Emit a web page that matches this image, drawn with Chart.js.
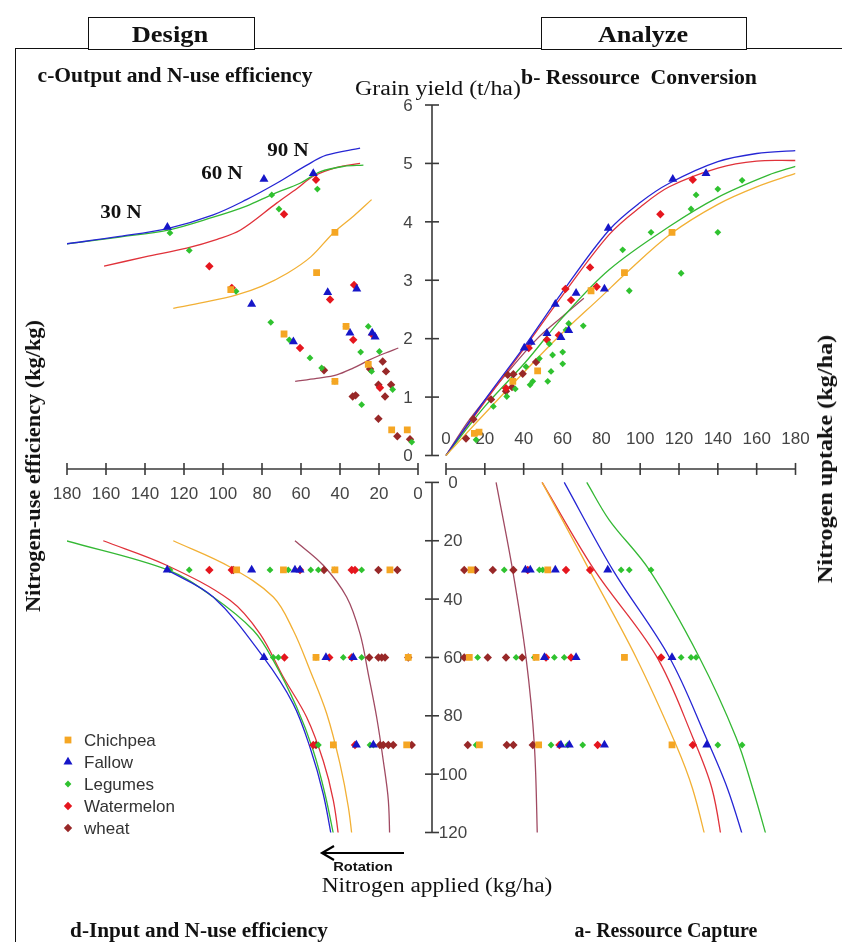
<!DOCTYPE html>
<html>
<head>
<meta charset="utf-8">
<script src="https://cdn.jsdelivr.net/npm/chart.js@4.4.1/dist/chart.umd.min.js"></script>
<style>
  html, body { margin: 0; padding: 0; background: #fff; }
  #wrap { position: relative; width: 842px; height: 942px; overflow: hidden; }
  #frame { position: absolute; left: 15px; top: 48px; width: 840px; height: 900px;
           border-left: 1.5px solid #111; border-top: 1.5px solid #111; }
  .box { position: absolute; top: 17px; height: 31px; border: 1.5px solid #111; background: #fff; }
  .lbl { position: absolute; white-space: pre; transform: translate(-50%, -50%);
         font-family: 'Liberation Serif', 'Times New Roman', serif; color: #111; line-height: 1; }
  .b { font-weight: bold; }
  canvas { position: absolute; left: 0; top: 0; }
</style>
</head>
<body>
<div id="wrap">
  <div id="frame"></div>
  <div class="box" style="left:88px;width:165px"></div>
  <div class="box" style="left:541px;width:204px"></div>
  <canvas id="chart" width="842" height="942"></canvas>

  <div class="lbl b" style="left:170px;top:34px;font-size:23px" data-w="76">Design</div>
  <div class="lbl b" style="left:643px;top:34px;font-size:23px" data-w="90">Analyze</div>
  <div class="lbl b" style="left:175px;top:75px;font-size:20px" data-w="275">c-Output and N-use efficiency</div>
  <div class="lbl" style="left:438px;top:88px;font-size:20px" data-w="166">Grain yield (t/ha)</div>
  <div class="lbl b" style="left:639px;top:77px;font-size:20px" data-w="236">b- Ressource  Conversion</div>
  <div class="lbl b" style="left:121px;top:212px;font-size:18px" data-w="42">30 N</div>
  <div class="lbl b" style="left:222px;top:173px;font-size:18px" data-w="42">60 N</div>
  <div class="lbl b" style="left:288px;top:150px;font-size:18px" data-w="42">90 N</div>
  <div class="lbl b" style="left:33px;top:466px;font-size:20px" data-w="292" data-rot="1">Nitrogen-use efficiency (kg/kg)</div>
  <div class="lbl b" style="left:825px;top:459px;font-size:20px" data-w="248" data-rot="1">Nitrogen uptake (kg/ha)</div>
  <div class="lbl" style="left:437px;top:885px;font-size:20px" data-w="231">Nitrogen applied (kg/ha)</div>
  <div class="lbl b" style="left:199px;top:930px;font-size:20px" data-w="258">d-Input and N-use efficiency</div>
  <div class="lbl b" style="left:666px;top:930px;font-size:20px" data-w="183">a- Ressource Capture</div>
  <div class="lbl b" style="left:363px;top:867px;font-size:12px;font-family:'Liberation Sans',Arial,sans-serif" data-w="60">Rotation</div>
</div>

<script>
// series and tick labels
const seriesNames = ["Chichpea", "Fallow", "Legumes", "Watermelon", "wheat"];
const yieldTicks = [0, 1, 2, 3, 4, 5, 6];
const uptakeTicks = [0, 20, 40, 60, 80, 100, 120, 140, 160, 180];
const nueTicks = [180, 160, 140, 120, 100, 80, 60, 40, 20, 0];
const appliedTicks = [0, 20, 40, 60, 80, 100, 120];

// c - Output and N-use efficiency: [N-use efficiency, grain yield]
const cChickpea = [[96,2.84],[68.7,2.08],[52,3.13],[42.6,3.82],[42.6,1.27],[36.9,2.21],[25.5,1.56],[13.5,0.44],[5.5,0.44]];
const cFallow = [[128.5,3.91],[79,4.73],[53.7,4.83],[85.3,2.59],[46.3,2.79],[31.4,2.85],[63.9,1.95],[34.9,2.1],[22,2.03],[23.5,2.1]];
const cLegumes = [[127.2,3.81],[117.3,3.51],[75,4.46],[71.3,4.22],[51.6,4.56],[93.3,2.81],[75.5,2.28],[66,1.98],[55.4,1.67],[49.4,1.5],[42.6,1.27],[36.9,2.21],[29.4,1.77],[28.9,0.87],[25.5,2.21],[23.8,1.44],[19.8,1.78],[13,1.13],[3.2,0.23]];
const cWatermelon = [[107,3.24],[95.5,2.87],[68.7,4.13],[52.3,4.72],[45.1,2.67],[32.8,2.92],[60.5,1.84],[33.2,1.98],[23.4,2.07],[19.5,1.16]];
const cWheat = [[48.2,1.46],[33.5,1.01],[32,1.03],[24.6,1.48],[20.3,0.63],[18.1,1.61],[16.4,1.44],[20.3,1.21],[16.9,1.01],[13.8,1.21],[10.6,0.33],[4.1,0.28]];
const cChickpeaFit = [[125.5,2.52],[110,2.62],[93,2.75],[80,2.9],[67,3.12],[55,3.4],[43.4,3.81],[33,4.1],[23.8,4.38]];
const cFallowFit = [[181,3.62],[153,3.75],[128,3.89],[105,4.12],[88,4.38],[72.5,4.66],[57,4.97],[47,5.14],[29.7,5.26]];
const cLegumesFit = [[181,3.62],[153,3.74],[128,3.86],[105,4.08],[88,4.27],[74,4.48],[60.5,4.66],[50,4.86],[38,4.95],[28,4.97]];
const cWatermelonFit = [[161,3.24],[140,3.4],[118.6,3.55],[103,3.7],[91,3.86],[72.5,4.32],[62,4.57],[53.7,4.78],[42,4.93],[29.7,5.0]];
const cWheatFit = [[63,1.27],[52,1.32],[41.7,1.38],[33,1.5],[24.6,1.64],[17,1.75],[10.1,1.84]];

// b - Ressource Conversion: [N uptake, grain yield]
const bChickpea = [[116.4,3.82],[91.9,3.13],[74.7,2.82],[47.2,1.45],[34.4,1.27],[14.6,0.38],[17,0.4]];
const bFallow = [[116.8,4.73],[133.9,4.83],[83.6,3.89],[81.6,2.85],[67,2.78],[56.3,2.59],[52,2.09],[63.2,2.14],[59.2,2.02],[43.8,1.94],[40.3,1.84]];
const bLegumes = [[152.5,4.71],[140,4.56],[128.8,4.46],[126.2,4.22],[105.6,3.82],[91,3.52],[140,3.82],[121.1,3.12],[94.4,2.82],[70.7,2.22],[63.2,2.26],[61.8,2.15],[53.2,1.91],[54.9,1.72],[60.1,1.77],[60.1,1.57],[48.1,1.66],[54.1,1.44],[52.4,1.27],[44.7,1.27],[43.3,1.21],[41.2,1.52],[35.7,1.14],[31.3,1.01],[24.4,0.84],[15.5,0.27]];
const bWatermelon = [[127.1,4.72],[110.4,4.13],[74.2,3.22],[77.6,2.89],[61.5,2.85],[64.4,2.66],[52,1.98],[58.1,2.06],[42.6,1.84],[30.9,1.15]];
const bWheat = [[46.4,1.6],[39.5,1.4],[34.7,1.39],[31.8,1.38],[34,1.17],[30.9,1.1],[23.2,0.96],[14.1,0.62],[10.3,0.29]];
const bChickpeaFit = [[0,0],[20,0.72],[40,1.42],[60,2.1],[80,2.72],[92,3.1],[116,3.8],[140,4.3],[160,4.6],[180,4.83]];
const bFallowFit = [[0,0],[20,0.95],[40,1.85],[60,2.8],[84,3.86],[100,4.33],[115,4.66],[140,5.03],[160,5.17],[180,5.22]];
const bLegumesFit = [[0,0],[20,0.84],[41,1.6],[60,2.36],[84,3.18],[115,3.92],[140,4.42],[166,4.8],[180,4.95]];
const bWatermelonFit = [[0,0],[20,0.92],[40,1.82],[60,2.74],[84,3.78],[100,4.25],[115,4.6],[140,4.92],[160,5.04],[180,5.05]];
const bWheatFit = [[0,0],[12,0.61],[29.2,1.32],[46.4,1.98],[60,2.38],[71,2.69]];

// d - Input and N-use efficiency: [N-use efficiency, N applied]
const dChickpea = [[93,30],[69,30],[42.6,30],[14.4,30],[52.3,60],[5,60],[43.4,90],[5.8,90]];
const dFallow = [[128.6,30],[85.3,30],[63.1,30],[60.5,30],[79,60],[47.2,60],[33.2,60],[31.6,90],[22.9,90]];
const dLegumes = [[127.2,30],[117.3,30],[75.9,30],[66.5,30],[55,30],[51.1,30],[42.9,30],[28.9,30],[74.2,60],[71.6,60],[52.3,60],[38.3,60],[28.9,60],[51.1,90],[43.4,90],[24.6,90],[22.9,90]];
const dWatermelon = [[107,30],[95.5,30],[60.5,30],[34,30],[32.3,30],[68.5,60],[45.5,60],[34,60],[53.7,90],[32.3,90]];
const dWheat = [[94.7,30],[48.2,30],[20.3,30],[10.6,30],[25,60],[20.3,60],[18.6,60],[16.9,60],[5,60],[52.3,90],[19.5,90],[17.8,90],[15.2,90],[12.7,90],[3.2,90]];
const dChickpeaFit = [[125.5,20],[96.4,29],[74.2,39.3],[64,50.7],[55.4,64.4],[46.8,79.3],[40,96.5],[35.7,111.4],[33.2,125]];
const dFallowFit = [[128.6,30],[105,39.3],[79.3,59.9],[64,75.9],[55.4,90.8],[48.6,106.8],[43.4,125]];
const dLegumesFit = [[180.5,20],[128,30.1],[105,39.3],[84.5,50.7],[74.2,61],[62.2,77.1],[53.7,92],[47.7,106.8],[42.6,123]];
const dWatermelonFit = [[161.4,20],[128.9,28.4],[96.4,40.4],[81,51.9],[69,66.8],[57.1,80.5],[48.6,95.4],[43.4,109.1],[40,125]];
const dWheatFit = [[63.1,20],[48.6,28.4],[36.6,39.3],[29.7,51.9],[25.5,65.6],[21.2,80.5],[17.8,95.4],[15.2,109.1],[14.4,125]];

// a - Ressource Capture: [N uptake, N applied]
const aChickpea = [[12.9,30],[52.4,30],[12,60],[46.4,60],[91.9,60],[17.2,90],[47.7,90],[116.4,90]];
const aFallow = [[40.9,30],[43.4,30],[56.3,30],[83.3,30],[50.7,60],[67,60],[116.4,60],[59.2,90],[63.5,90],[81.6,90],[134.3,90]];
const aLegumes = [[30,30],[48.1,30],[49.8,30],[90.2,30],[94.4,30],[105.6,30],[16.3,60],[36.1,60],[45.5,60],[55.8,60],[60.9,60],[121.1,60],[126.2,60],[128.8,60],[15.5,90],[54.1,90],[62.7,90],[70.4,90],[140,90],[152.5,90]];
const aWatermelon = [[42.1,30],[61.8,30],[74.2,30],[51.5,60],[64.4,60],[110.8,60],[58.4,90],[78.1,90],[127.1,90]];
const aWheat = [[9.4,30],[15.1,30],[24.1,30],[34.7,30],[9.4,60],[21.5,60],[30.9,60],[39.2,60],[11.2,90],[31.3,90],[34.7,90],[44.7,90]];
const aChickpeaFit = [[49.5,0],[73.8,30],[97.9,60],[118.5,90],[127,105],[134.8,125]];
const aFallowFit = [[60.9,0],[85.9,30],[115.1,60],[133.9,87.4],[145,105],[154.6,125]];
const aLegumesFit = [[72.5,0],[84.1,12.9],[104.7,30],[130.5,60],[149.4,87.4],[158,105],[166.6,125]];
const aWatermelonFit = [[49.5,0],[76.4,30],[108.2,59.4],[127.1,87.4],[137,105],[142.6,125]];
const aWheatFit = [[25.8,0],[34.3,30],[41.2,60],[45.5,90],[47.2,125]];

// look of each series
const looks = [
  { color: "#F5A623", line: "#F2B035", style: "rect", r: 4.8 },
  { color: "#1616C8", line: "#2626D4", style: "triangle", r: 5.2 },
  { color: "#2FC22F", line: "#34B834", style: "rectRot", r: 3.4 },
  { color: "#E5161E", line: "#E0323A", style: "rectRot", r: 4.2 },
  { color: "#982828", line: "#A04A62", style: "rectRot", r: 4.2 },
];

const quadrants = [
  { x: "xL", y: "yT", pts: [cChickpea, cFallow, cLegumes, cWatermelon, cWheat], fits: [cChickpeaFit, cFallowFit, cLegumesFit, cWatermelonFit, cWheatFit] },
  { x: "xR", y: "yT", pts: [bChickpea, bFallow, bLegumes, bWatermelon, bWheat], fits: [bChickpeaFit, bFallowFit, bLegumesFit, bWatermelonFit, bWheatFit] },
  { x: "xL", y: "yB", pts: [dChickpea, dFallow, dLegumes, dWatermelon, dWheat], fits: [dChickpeaFit, dFallowFit, dLegumesFit, dWatermelonFit, dWheatFit] },
  { x: "xR", y: "yB", pts: [aChickpea, aFallow, aLegumes, aWatermelon, aWheat], fits: [aChickpeaFit, aFallowFit, aLegumesFit, aWatermelonFit, aWheatFit] },
];

const datasets = [];
quadrants.forEach(q => {
  seriesNames.forEach((name, i) => {
    const s = looks[i];
    datasets.push({
      label: name + " fit", data: q.fits[i], xAxisID: q.x, yAxisID: q.y,
      showLine: true, pointRadius: 0, borderColor: s.line, borderWidth: 1.3,
      tension: 0.35, fill: false, order: 2,
    });
    datasets.push({
      label: name, data: q.pts[i], xAxisID: q.x, yAxisID: q.y,
      showLine: false, pointStyle: s.style, pointRadius: s.r,
      backgroundColor: s.color, borderColor: s.color, borderWidth: 0, order: 1,
    });
  });
});

// where the four half-axes sit on the page
const area = { left: 67, right: 795.5, top: 105, bottom: 832.5 };
function axisRange(v0, p0, v1, p1, pStart, pEnd) {
  const f = p => v0 + (p - p0) * (v1 - v0) / (p1 - p0);
  const a = f(pStart), b = f(pEnd);
  return { min: Math.min(a, b), max: Math.max(a, b), reverse: a > b };
}
function hidden(r) {
  return { type: "linear", display: false, bounds: "data", min: r.min, max: r.max, reverse: r.reverse };
}

const crossAxes = {
  id: "crossAxes",
  beforeDatasetsDraw(chart) {
    const { ctx } = chart;
    const { xL, xR, yT, yB } = chart.scales;
    const ax = (xL.getPixelForValue(0) + xR.getPixelForValue(0)) / 2;
    const ay = (yT.getPixelForValue(0) + yB.getPixelForValue(0)) / 2;
    const seg = (x1, y1, x2, y2) => { ctx.beginPath(); ctx.moveTo(x1, y1); ctx.lineTo(x2, y2); ctx.stroke(); };
    ctx.save();
    ctx.strokeStyle = "#3a3a3a";
    ctx.lineWidth = 1.6;
    ctx.fillStyle = "#444";
    ctx.font = "17px 'Liberation Sans', Arial, sans-serif";
    ctx.textAlign = "center";
    ctx.textBaseline = "middle";

    const vertical = (scale, ticks, dx) => {
      seg(ax, scale.getPixelForValue(ticks[0]), ax, scale.getPixelForValue(ticks[ticks.length - 1]));
      ticks.forEach(t => {
        const p = scale.getPixelForValue(t);
        seg(ax - 7, p, ax + 7, p);
        ctx.fillText(String(t), ax + dx, p + 1);
      });
    };
    const horizontal = (scale, ticks, dy) => {
      seg(scale.getPixelForValue(ticks[0]), ay, scale.getPixelForValue(ticks[ticks.length - 1]), ay);
      ticks.forEach(t => {
        const p = scale.getPixelForValue(t);
        seg(p, ay - 6, p, ay + 6);
        ctx.fillText(String(t), p, ay + dy);
      });
    };
    vertical(yT, yieldTicks, -24);
    vertical(yB, appliedTicks, 21);
    horizontal(xL, nueTicks, 25);
    horizontal(xR, uptakeTicks, -30);
    ctx.restore();
  },
  afterDraw(chart) {
    const { ctx } = chart;
    ctx.save();
    // legend
    ctx.font = "17px 'Liberation Sans', Arial, sans-serif";
    ctx.textAlign = "left";
    ctx.textBaseline = "middle";
    seriesNames.forEach((name, i) => {
      const s = looks[i];
      const y = 740 + i * 22;
      ctx.fillStyle = s.color;
      ctx.strokeStyle = s.color;
      Chart.helpers.drawPoint(ctx, { pointStyle: s.style, radius: s.r, borderWidth: 0, rotation: 0 }, 68, y);
      ctx.fillStyle = "#333";
      ctx.fillText(name, 84, y + 1);
    });
    // rotation arrow
    ctx.strokeStyle = "#000";
    ctx.lineWidth = 2.2;
    ctx.beginPath();
    ctx.moveTo(404, 853); ctx.lineTo(322, 853);
    ctx.moveTo(334, 846); ctx.lineTo(322, 853); ctx.lineTo(334, 860);
    ctx.stroke();
    ctx.restore();
  },
};

new Chart(document.getElementById("chart"), {
  type: "scatter",
  data: { datasets: datasets },
  options: {
    responsive: false,
    animation: false,
    events: [],
    layout: { padding: { left: area.left, right: 842 - area.right, top: area.top, bottom: 942 - area.bottom } },
    plugins: { legend: { display: false }, tooltip: { enabled: false } },
    scales: {
      xR: hidden(axisRange(0, 446, 180, 795.5, area.left, area.right)),
      xL: hidden(axisRange(0, 418, 180, 67, area.left, area.right)),
      yT: hidden(axisRange(0, 455.5, 6, 105, area.bottom, area.top)),
      yB: hidden(axisRange(0, 482.4, 120, 832.5, area.bottom, area.top)),
    },
  },
  plugins: [crossAxes],
});

// stretch the labels to the widths they take in the figure
document.querySelectorAll(".lbl").forEach(el => {
  const k = +el.dataset.w / el.offsetWidth;
  const rot = el.dataset.rot ? " rotate(-90deg)" : "";
  el.style.transform = "translate(-50%, -50%)" + rot + " scaleX(" + k.toFixed(3) + ")";
});
</script>
</body>
</html>
